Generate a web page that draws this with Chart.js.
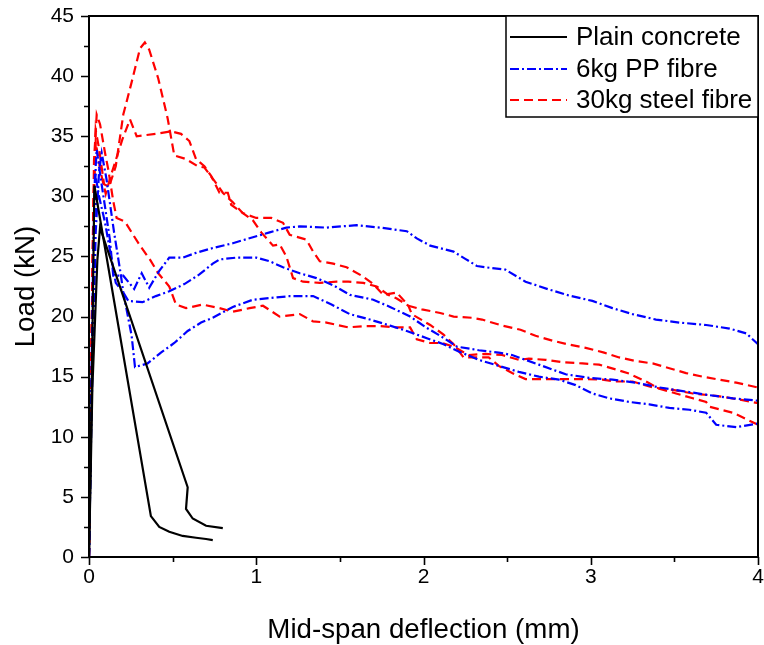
<!DOCTYPE html>
<html>
<head>
<meta charset="utf-8">
<title>Load versus mid-span deflection</title>
<script src="https://cdn.jsdelivr.net/npm/chart.js@4.4.1/dist/chart.umd.min.js"></script>
<style>
  html, body { margin: 0; padding: 0; background: #ffffff; }
  #wrap { width: 764px; height: 645px; }
</style>
</head>
<body>
<div id="wrap"><canvas id="chart" width="764" height="645"></canvas></div>
<script>
// Load (kN) against mid-span deflection (mm), three specimens per mix.
// Each curve is a list of [deflection, load] pairs.

const seriesNames = ['Plain concrete', '6kg PP fibre', '30kg steel fibre'];

const plainA = [[0,0],[0.012,10],[0.025,23],[0.032,30.9],[0.37,3.4],[0.42,2.5],[0.48,2.1],[0.56,1.75],[0.64,1.6],[0.70,1.5],[0.74,1.4]];
const plainB = [[0,0],[0.02,14],[0.05,24.7],[0.066,27.4],[0.59,5.8],[0.58,4.0],[0.62,3.2],[0.70,2.6],[0.80,2.4]];

const ppA = [[0,0],[0.01,9],[0.025,22],[0.04,32.5],[0.046,33.9],[0.07,31.5],[0.095,29.2],[0.125,26.4],[0.145,23.4],[0.205,23.4],
  [0.27,22.3],[0.315,23.6],[0.36,22.4],[0.42,23.8],[0.48,24.9],[0.56,24.9],[0.64,25.3],[0.74,25.7],[0.86,26.1],[0.98,26.6],
  [1.08,27.0],[1.18,27.4],[1.26,27.5],[1.42,27.4],[1.6,27.6],[1.74,27.4],[1.9,27.1],[1.96,26.5],[2.04,25.9],[2.18,25.4],
  [2.25,24.8],[2.32,24.2],[2.37,24.1],[2.49,23.9],[2.61,22.9],[2.75,22.25],[2.87,21.75],[3.01,21.3],[3.13,20.7],[3.25,20.2],
  [3.39,19.75],[3.53,19.5],[3.69,19.3],[3.83,19.0],[3.93,18.6],[4.0,17.7]];
const ppB = [[0,0],[0.01,10],[0.025,25],[0.036,32],[0.06,30],[0.096,27.8],[0.135,24.75],[0.16,22.8],[0.205,22],[0.235,21.3],
  [0.32,21.2],[0.40,21.7],[0.48,22.1],[0.57,22.7],[0.66,23.5],[0.74,24.4],[0.78,24.75],[0.88,24.9],[1.0,24.9],[1.08,24.6],
  [1.16,24.1],[1.26,23.6],[1.36,23.2],[1.46,22.6],[1.56,21.8],[1.70,21.4],[1.80,20.8],[1.92,20.0],[2.02,19.05],[2.10,18.4],
  [2.20,17.5],[2.33,17.2],[2.45,17.0],[2.53,16.8],[2.69,16.0],[2.85,15.2],[2.99,14.9],[3.13,14.75],[3.27,14.5],[3.41,14.1],
  [3.55,13.8],[3.69,13.5],[3.85,13.2],[4.0,13.0]];
const ppC = [[0,0],[0.015,12],[0.04,27],[0.06,32],[0.076,33.6],[0.105,31.4],[0.15,27],[0.19,23.5],[0.205,22],[0.255,18.4],
  [0.275,15.8],[0.35,16.1],[0.43,17.0],[0.51,17.8],[0.59,18.8],[0.67,19.5],[0.74,19.9],[0.86,20.8],[0.98,21.4],[1.2,21.7],
  [1.34,21.7],[1.45,21.0],[1.56,20.2],[1.68,19.75],[1.8,19.25],[1.9,18.8],[2.02,18.2],[2.12,17.7],[2.21,17.1],[2.33,16.4],
  [2.45,15.9],[2.57,15.4],[2.69,15.0],[2.81,14.75],[2.91,14.3],[3.01,13.6],[3.11,13.2],[3.23,12.9],[3.35,12.7],[3.47,12.4],
  [3.59,12.25],[3.69,12.0],[3.75,11.0],[3.87,10.8],[4.0,11.1]];

const steelA = [[0,0],[0.01,12],[0.025,28],[0.04,35.5],[0.06,34],[0.09,31],[0.12,30.8],[0.16,32.5],[0.205,36.8],[0.255,39.5],
  [0.305,42.3],[0.334,42.8],[0.36,42.2],[0.414,39.8],[0.47,36.5],[0.51,33.4],[0.58,33.1],[0.65,32.5],[0.69,32.4],[0.76,31.1],
  [0.80,30.3],[0.86,29.5],[0.92,28.6],[1.0,28.2],[1.09,28.2],[1.16,27.8],[1.2,26.8],[1.3,26.4],[1.34,25.4],[1.38,24.6],
  [1.46,24.4],[1.54,24.1],[1.63,23.4],[1.70,22.7],[1.76,21.8],[1.84,22.0],[1.91,20.9],[1.99,20.6],[2.10,20.3],[2.18,20.0],
  [2.29,19.9],[2.35,19.75],[2.47,19.25],[2.58,18.9],[2.67,18.4],[2.77,18.0],[2.86,17.7],[2.97,17.4],[3.08,17.0],[3.17,16.6],
  [3.27,16.3],[3.37,16.1],[3.47,15.7],[3.57,15.3],[3.67,15.0],[3.77,14.75],[3.87,14.5],[4.0,14.1]];
const steelB = [[0,0],[0.012,14],[0.028,30],[0.04,34.5],[0.07,32],[0.1,30.2],[0.13,31.7],[0.2,34.75],[0.245,36.4],[0.285,35.0],
  [0.40,35.2],[0.49,35.4],[0.55,35.2],[0.60,34.6],[0.64,33.1],[0.69,32.5],[0.73,31.7],[0.78,30.3],[0.83,30.3],[0.85,29.3],
  [0.92,28.6],[0.98,28.0],[1.03,27.0],[1.10,25.9],[1.14,26.0],[1.18,25.0],[1.22,23.2],[1.28,22.9],[1.38,22.8],[1.48,22.9],
  [1.55,22.9],[1.64,22.8],[1.72,22.5],[1.79,21.8],[1.84,21.5],[1.91,20.9],[1.93,20.2],[2.04,19.3],[2.12,18.5],[2.18,17.7],
  [2.24,16.6],[2.31,16.6],[2.39,16.6],[2.45,15.9],[2.53,15.3],[2.61,14.8],[2.69,14.8],[2.83,14.8],[2.95,14.8],[3.07,14.75],
  [3.15,14.6],[3.25,14.6],[3.37,14.1],[3.49,13.9],[3.61,13.6],[3.75,13.4],[3.89,13.1],[4.0,12.8]];
const steelC = [[0,0],[0.012,15],[0.03,33],[0.046,36.8],[0.066,36],[0.096,33.6],[0.115,32.25],[0.145,29.6],[0.165,28.2],[0.215,27.9],
  [0.264,26.8],[0.305,25.9],[0.364,24.75],[0.414,23.6],[0.48,22.5],[0.52,21.0],[0.58,20.7],[0.68,21.0],[0.78,20.7],[0.86,20.4],
  [0.96,20.7],[1.04,20.9],[1.14,20.0],[1.26,20.2],[1.34,19.6],[1.42,19.5],[1.55,19.1],[1.64,19.2],[1.74,19.2],[1.84,19.1],
  [1.92,19.1],[1.96,18.1],[2.04,17.8],[2.11,17.8],[2.18,17.5],[2.27,16.8],[2.37,16.9],[2.47,16.8],[2.57,16.4],[2.63,16.5],
  [2.73,16.4],[2.83,16.2],[2.95,16.1],[3.05,16.0],[3.15,15.6],[3.23,15.25],[3.33,14.6],[3.41,14.0],[3.51,13.6],[3.61,13.2],
  [3.69,12.9],[3.71,12.5],[3.85,12.0],[3.91,11.6],[4.0,11.0]];

const xTicks = [0, 1, 2, 3, 4];
const yTicks = [0, 5, 10, 15, 20, 25, 30, 35, 40, 45];

// line styles per mix
const styles = [
  { color: '#000000', dash: [] },
  { color: '#0000ff', dash: [9, 3, 2, 3] },
  { color: '#ff0000', dash: [9, 5] }
];
const groups = [
  [plainA, plainB],
  [ppA, ppB, ppC],
  [steelA, steelB, steelC]
];

const FONT = '"Liberation Sans", Arial, Helvetica, sans-serif';

const datasets = [];
groups.forEach((curves, g) => {
  curves.forEach((pts, i) => {
    datasets.push({
      label: seriesNames[g] + ' ' + (i + 1),
      data: pts.map(p => ({ x: p[0], y: p[1] })),
      borderColor: styles[g].color,
      borderDash: styles[g].dash,
      borderWidth: 2.2,
      pointRadius: 0,
      tension: 0,
      fill: false
    });
  });
});

// frame, outward tick marks (major + minor)
const framePlugin = {
  id: 'frameTicks',
  afterDraw(chart) {
    const { ctx, chartArea: a, scales: { x, y } } = chart;
    ctx.save();
    ctx.strokeStyle = '#000';
    ctx.lineWidth = 2;
    ctx.setLineDash([]);
    ctx.strokeRect(a.left, a.top, a.right - a.left, a.bottom - a.top);
    ctx.lineWidth = 1.6;
    ctx.beginPath();
    for (let v = x.min; v <= x.max + 1e-9; v += 0.5) {
      const px = Math.round(x.getPixelForValue(v)) + 0.5;
      const len = Number.isInteger(v) ? 8 : 5;
      ctx.moveTo(px, a.bottom);
      ctx.lineTo(px, a.bottom + len);
    }
    for (let v = y.min; v <= y.max + 1e-9; v += 2.5) {
      const py = Math.round(y.getPixelForValue(v)) + 0.5;
      const len = (v % 5 === 0) ? 8 : 5;
      ctx.moveTo(a.left, py);
      ctx.lineTo(a.left - len, py);
    }
    ctx.stroke();
    ctx.restore();
  }
};

// boxed legend in the upper right corner of the plot
const legendPlugin = {
  id: 'boxLegend',
  afterDraw(chart) {
    const { ctx, chartArea: a } = chart;
    const left = 506, top = a.top, right = a.right, bottom = 117;
    ctx.save();
    ctx.fillStyle = '#fff';
    ctx.fillRect(left, top, right - left, bottom - top);
    ctx.strokeStyle = '#000';
    ctx.lineWidth = 1.5;
    ctx.setLineDash([]);
    ctx.strokeRect(left, top, right - left, bottom - top);
    const rows = [37, 69, 100];
    seriesNames.forEach((name, i) => {
      const yy = rows[i];
      ctx.strokeStyle = styles[i].color;
      ctx.lineWidth = 2;
      ctx.setLineDash(styles[i].dash);
      ctx.beginPath();
      ctx.moveTo(510, yy);
      ctx.lineTo(567, yy);
      ctx.stroke();
      ctx.setLineDash([]);
      ctx.fillStyle = '#000';
      ctx.font = '26px ' + FONT;
      ctx.textBaseline = 'middle';
      ctx.textAlign = 'left';
      ctx.fillText(name, 576, yy + 1);
    });
    ctx.restore();
  }
};

new Chart(document.getElementById('chart'), {
  type: 'line',
  data: { datasets },
  options: {
    responsive: false,
    animation: false,
    devicePixelRatio: 1,
    layout: { padding: { top: 16, right: 6, left: 0, bottom: 0 } },
    plugins: { legend: { display: false }, tooltip: { enabled: false } },
    scales: {
      x: {
        type: 'linear',
        min: 0, max: 4,
        afterFit: s => { s.height = 88; s.paddingLeft = 0; s.paddingRight = 0; },
        afterBuildTicks: s => { s.ticks = xTicks.map(v => ({ value: v })); },
        grid: { display: false, drawTicks: false },
        border: { display: false },
        ticks: { color: '#000', padding: 8, font: { family: FONT, size: 21 }, callback: v => String(v), maxRotation: 0 },
        title: { display: true, text: 'Mid-span deflection (mm)', color: '#000',
                 font: { family: FONT, size: 27.7, lineHeight: 1 }, padding: { top: 0, bottom: 1 } }
      },
      y: {
        type: 'linear',
        min: 0, max: 45,
        afterFit: s => { s.width = 89; s.paddingTop = 0; s.paddingBottom = 0; },
        afterBuildTicks: s => { s.ticks = yTicks.map(v => ({ value: v })); },
        grid: { display: false, drawTicks: false },
        border: { display: false },
        ticks: { color: '#000', padding: 15, font: { family: FONT, size: 21 }, callback: v => String(v) },
        title: { display: true, text: 'Load (kN)', color: '#000',
                 font: { family: FONT, size: 27.7, lineHeight: 1 }, padding: { top: 13, bottom: 0 } }
      }
    }
  },
  plugins: [framePlugin, legendPlugin]
});
</script>
</body>
</html>
